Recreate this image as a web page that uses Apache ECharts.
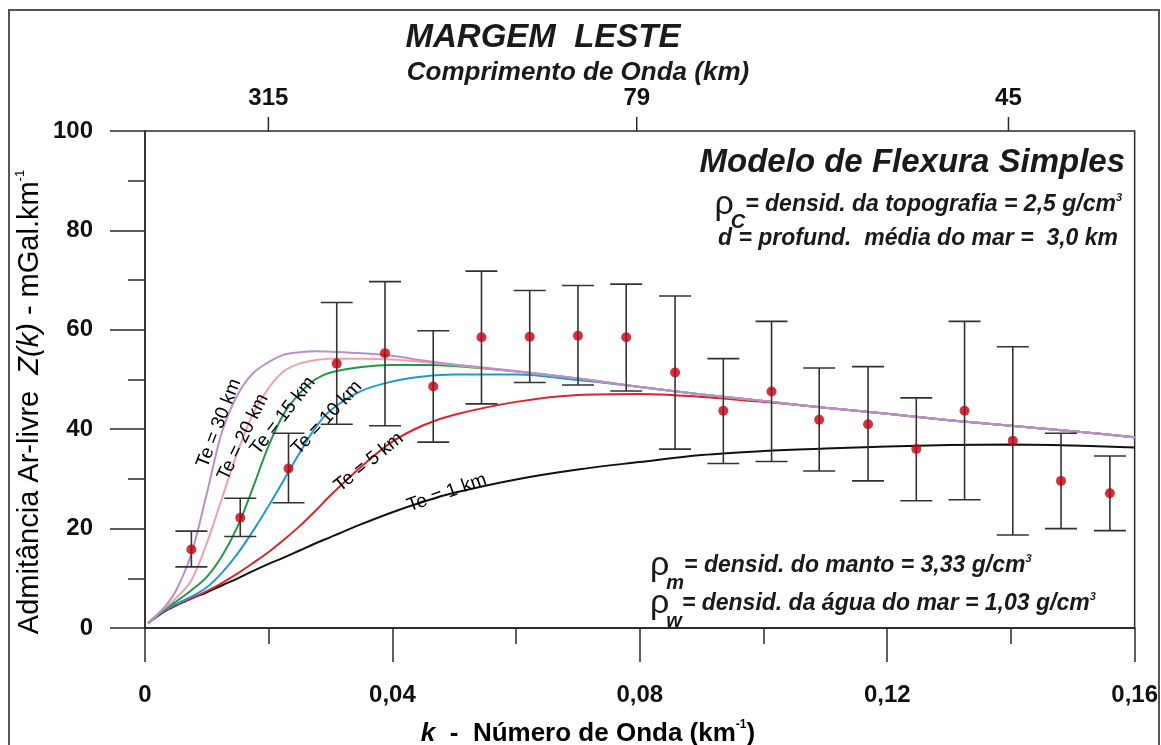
<!DOCTYPE html>
<html><head><meta charset="utf-8">
<script src="https://cdn.jsdelivr.net/npm/echarts@6/dist/echarts.min.js"></script>
<style>html,body{margin:0;padding:0;background:#fff}#c{width:1161px;height:745px}</style>
</head><body><div id="c"></div>
<script>
// ---- observed admittance (k in 1/km, Z in mGal/km) ----
const kObs  = [0.0075, 0.0154, 0.0232, 0.0310, 0.0388, 0.0466, 0.0544, 0.0622, 0.0700, 0.0778, 0.0857, 0.0935, 0.1013, 0.1090, 0.1169, 0.1247, 0.1325, 0.1403, 0.1481, 0.1560];
const zObs  = [15.8, 22.2, 32.1, 53.2, 55.3, 48.6, 58.5, 58.6, 58.8, 58.5, 51.4, 43.7, 47.6, 41.9, 41.0, 36.0, 43.7, 37.7, 29.6, 27.1];
const zHigh = [19.5, 26.1, 39.2, 65.5, 69.7, 59.8, 71.8, 67.9, 68.9, 69.2, 66.8, 54.2, 61.7, 52.3, 52.6, 46.3, 61.7, 56.6, 39.2, 34.6];
const zLow  = [12.3, 18.4, 25.2, 41.0, 40.7, 37.4, 45.1, 49.4, 48.9, 47.7, 36.0, 33.1, 33.5, 31.6, 29.6, 25.6, 25.8, 18.7, 20.0, 19.6];

// ---- model curves ----
const kCurve = [0.0005, 0.003, 0.005, 0.0075, 0.01, 0.0125, 0.015, 0.0175, 0.02, 0.0225, 0.025, 0.0275, 0.03, 0.035, 0.04, 0.045, 0.05, 0.06, 0.07, 0.08, 0.09, 0.10, 0.11, 0.12, 0.13, 0.14, 0.15, 0.16];
const te30 = [1.0, 4.0, 7.5, 15.0, 27.1, 39.7, 47.0, 51.3, 53.5, 55.0, 55.5, 55.7, 55.6, 55.3, 54.8, 53.8, 53.0, 51.7, 50.2, 48.5, 47.0, 45.7, 44.3, 43.1, 41.8, 40.7, 39.6, 38.4];
const te20 = [1.0, 3.8, 6.0, 9.6, 17.1, 26.3, 35.5, 43.2, 48.3, 51.7, 53.2, 53.9, 54.2, 54.2, 54.0, 53.5, 52.9, 51.6, 50.2, 48.5, 47.0, 45.7, 44.3, 43.1, 41.8, 40.7, 39.6, 38.4];
const te15 = [1.0, 3.6, 5.3, 7.6, 10.3, 14.6, 20.5, 28.4, 36.7, 43.2, 47.2, 50.0, 51.4, 52.5, 52.9, 52.9, 52.7, 51.6, 50.2, 48.5, 47.0, 45.7, 44.3, 43.1, 41.8, 40.7, 39.6, 38.4];
const te10 = [1.0, 3.4, 4.8, 6.3, 8.2, 11.2, 15.0, 19.6, 24.6, 29.9, 35.2, 40.2, 43.8, 47.7, 49.6, 50.6, 51.0, 51.0, 49.9, 48.5, 47.0, 45.7, 44.3, 43.1, 41.8, 40.7, 39.6, 38.4];
const te5  = [1.0, 3.3, 4.6, 5.9, 7.4, 9.1, 11.0, 13.1, 15.3, 17.8, 20.5, 23.5, 26.7, 32.5, 37.5, 40.8, 42.9, 45.5, 46.9, 47.1, 46.5, 45.5, 44.3, 43.1, 41.8, 40.7, 39.6, 38.4];
const te1  = [1.0, 3.2, 4.5, 5.9, 7.2, 8.6, 10.0, 11.5, 12.9, 14.2, 15.6, 17.0, 18.3, 20.9, 23.3, 25.4, 27.2, 29.9, 31.9, 33.4, 34.8, 35.6, 36.1, 36.5, 36.8, 36.9, 36.7, 36.3];

// ---- top axis: wavelength (km) ticks ----
const topTickLabels = ['315', '79', '45'];
const topTickK = [0.01995, 0.0795, 0.1396];

// ---- curve labels ----
const curveLabels = ['Te = 30 km', 'Te = 20 km', 'Te = 15 km', 'Te = 10 km', 'Te = 5 km', 'Te = 1 km'];
const curveLabelK = [0.01196, 0.01584, 0.0223, 0.0294, 0.0362, 0.0488];
const curveLabelZ = [41.2, 38.4, 42.7, 42.3, 33.4, 27.2];
const curveLabelAngle = [68.7, 64, 52, 47, 39, 19.5];

const Y_MIN = 0, Y_MAX = 100;
const FONT = '"Liberation Sans", Arial, sans-serif';
const AX = '#2a2a2a';

const chart = echarts.init(document.getElementById('c'), null, {renderer: 'canvas'});

function curve(name, vals, color) {
  return {
    name, type: 'line', data: kCurve.map((k, i) => [k, vals[i]]),
    showSymbol: false, smooth: 0.35,
    lineStyle: {color, width: 2}, z: 2, silent: true, xAxisIndex: 0
  };
}

const fmtK = v => v === 0 ? '0' : String(+v.toFixed(2)).replace('.', ',');

chart.setOption({
  animation: false,
  backgroundColor: '#fff',
  grid: {left: 145, right: 26, top: 131, bottom: 117, show: true, borderColor: AX, borderWidth: 1.5, containLabel: false},
  xAxis: [{
    type: 'value', min: 0, max: 0.16, interval: 0.04, position: 'bottom',
    axisLine: {show: true, onZero: false, lineStyle: {color: AX, width: 1.5}},
    axisTick: {show: true, inside: false, length: 34, lineStyle: {color: AX, width: 1.5}},
    minorTick: {show: true, splitNumber: 2, length: 16, lineStyle: {color: AX, width: 1.5}},
    axisLabel: {margin: 55, color: '#111', fontFamily: FONT, fontWeight: 'bold', fontSize: 24, formatter: fmtK},
    splitLine: {show: false}
  }, {
    type: 'value', min: 0, max: 0.16, position: 'top',
    axisLine: {show: true, lineStyle: {color: AX, width: 1.5}},
    axisTick: {show: false},
    axisLabel: {show: true, customValues: topTickK, margin: 21, color: '#111', fontFamily: FONT, fontWeight: 'bold', fontSize: 24,
      formatter: v => {
        let best = 0;
        topTickK.forEach((t, i) => { if (Math.abs(t - v) < Math.abs(topTickK[best] - v)) best = i; });
        return topTickLabels[best];
      }},
    splitLine: {show: false}
  }],
  yAxis: {
    type: 'value', min: Y_MIN, max: Y_MAX, interval: 20,
    axisLine: {show: true, lineStyle: {color: AX, width: 1.5}},
    axisTick: {show: true, length: 35, lineStyle: {color: AX, width: 1.5}},
    minorTick: {show: true, splitNumber: 2, length: 17, lineStyle: {color: AX, width: 1.5}},
    axisLabel: {margin: 52, color: '#111', fontFamily: FONT, fontWeight: 'bold', fontSize: 24},
    splitLine: {show: false}
  },
  series: [
    curve('Te = 1 km', te1, '#111111'),
    curve('Te = 5 km', te5, '#d9262b'),
    curve('Te = 10 km', te10, '#1d9ad6'),
    curve('Te = 15 km', te15, '#1f9a48'),
    curve('Te = 20 km', te20, '#f2a0ac'),
    curve('Te = 30 km', te30, '#b98fca'),
    {
      // wavelength ticks on the top axis
      type: 'custom', name: 'topTicks', z: 3, silent: true, clip: false,
      data: topTickK.map(k => [k, Y_MAX]),
      encode: {x: 0, y: 1},
      renderItem: (params, api) => {
        const p = api.coord([api.value(0), api.value(1)]);
        return {type: 'line', shape: {x1: p[0], y1: p[1], x2: p[0], y2: p[1] - 14}, style: {stroke: AX, lineWidth: 1.5}};
      }
    },
    {
      type: 'custom', name: 'erro', z: 3, silent: true,
      data: kObs.map((k, i) => [k, zLow[i], zHigh[i]]),
      encode: {x: 0, y: [1, 2]},
      renderItem: (params, api) => {
        const k = api.value(0);
        const pLo = api.coord([k, api.value(1)]);
        const pHi = api.coord([k, api.value(2)]);
        const w = 16;
        const st = {stroke: '#333', lineWidth: 1.6};
        return {type: 'group', children: [
          {type: 'line', shape: {x1: pLo[0], y1: pLo[1], x2: pHi[0], y2: pHi[1]}, style: st},
          {type: 'line', shape: {x1: pLo[0] - w, y1: pLo[1], x2: pLo[0] + w, y2: pLo[1]}, style: st},
          {type: 'line', shape: {x1: pHi[0] - w, y1: pHi[1], x2: pHi[0] + w, y2: pHi[1]}, style: st}
        ]};
      }
    },
    {
      type: 'scatter', name: 'obs', z: 4, silent: true,
      data: kObs.map((k, i) => [k, zObs[i]]),
      symbol: 'circle', symbolSize: 10,
      itemStyle: {color: '#c4000f'}
    }
  ]
});

// ---- annotations ----
const g = [];
g.push({type: 'rect', shape: {x: 9, y: 10, width: 1150, height: 760}, style: {fill: null, stroke: '#555', lineWidth: 2}, silent: true, z: 10});

g.push({type: 'text', x: 543, y: 38, style: {text: 'MARGEM  LESTE', font: 'italic bold 33px ' + FONT, fill: '#1a1a1a', align: 'center', verticalAlign: 'middle'}, z: 10});
g.push({type: 'text', x: 578, y: 73, style: {text: 'Comprimento de Onda (km)', font: 'italic bold 26px ' + FONT, fill: '#1a1a1a', align: 'center', verticalAlign: 'middle'}, z: 10});

g.push({type: 'text', x: 1125, y: 163, style: {text: 'Modelo de Flexura Simples', font: 'italic bold 33px ' + FONT, fill: '#1a1a1a', align: 'right', verticalAlign: 'middle'}, z: 10});

const richBase = {
  rho: {fontFamily: FONT, fontSize: 34, fontWeight: 'normal', color: '#1a1a1a', verticalAlign: 'middle', lineHeight: 38},
  sub: {fontFamily: FONT, fontSize: 20, fontStyle: 'italic', fontWeight: 'bold', color: '#1a1a1a', verticalAlign: 'bottom', lineHeight: 38, padding: [0, 0, -8, -3]},
  t: {fontFamily: FONT, fontSize: 23, fontStyle: 'italic', fontWeight: 'bold', color: '#1a1a1a', verticalAlign: 'middle', lineHeight: 38},
  sup: {fontFamily: FONT, fontSize: 11, fontStyle: 'italic', fontWeight: 'bold', color: '#1a1a1a', verticalAlign: 'top', lineHeight: 38, padding: [6, 0, 0, 0]}
};
function richText(x, y, text, align) {
  return {type: 'text', x, y, z: 10, style: {text, rich: richBase, align, verticalAlign: 'middle', fill: '#1a1a1a'}};
}
g.push(richText(1122, 205, '{rho|ρ}{sub|C}{t|= densid. da topografia = 2,5 g/cm}{sup|3}', 'right'));
g.push({type: 'text', x: 1118, y: 239, style: {text: 'd = profund.  média do mar =  3,0 km', font: 'italic bold 23px ' + FONT, fill: '#1a1a1a', align: 'right', verticalAlign: 'middle'}, z: 10});
g.push(richText(650, 566, '{rho|ρ}{sub|m}{t|= densid. do manto = 3,33 g/cm}{sup|3}', 'left'));
g.push(richText(650, 604, '{rho|ρ}{sub|w}{t|= densid. da água do mar = 1,03 g/cm}{sup|3}', 'left'));

// axis titles
g.push({type: 'text', x: 588, y: 734, z: 10, style: {
  text: '{i|k}{n|  -  Número de Onda (km}{s|-1}{n|)}', align: 'center', verticalAlign: 'middle',
  rich: {
    i: {fontFamily: FONT, fontSize: 26, fontStyle: 'italic', fontWeight: 'bold', color: '#1a1a1a', lineHeight: 30},
    n: {fontFamily: FONT, fontSize: 26, fontWeight: 'bold', color: '#1a1a1a', lineHeight: 30},
    s: {fontFamily: FONT, fontSize: 12, fontWeight: 'bold', color: '#1a1a1a', verticalAlign: 'top', lineHeight: 30}
  }}});
g.push({type: 'text', x: 30, y: 402, rotation: Math.PI / 2, z: 10, style: {
  text: '{n|Admitância Ar-livre  }{i|Z(k)}{n| - mGal.km}{s|-1}', align: 'center', verticalAlign: 'middle',
  rich: {
    i: {fontFamily: FONT, fontSize: 29, fontStyle: 'italic', color: '#1a1a1a', lineHeight: 32},
    n: {fontFamily: FONT, fontSize: 29, color: '#1a1a1a', lineHeight: 32},
    s: {fontFamily: FONT, fontSize: 13, color: '#1a1a1a', verticalAlign: 'top', lineHeight: 32}
  }}});

// curve labels anchored in data coordinates
curveLabels.forEach((lab, i) => {
  const p = chart.convertToPixel({gridIndex: 0}, [curveLabelK[i], curveLabelZ[i]]);
  g.push({type: 'text', x: p[0], y: p[1], rotation: curveLabelAngle[i] * Math.PI / 180, z: 5,
    style: {text: lab, font: '19px ' + FONT, fill: '#000', align: 'center', verticalAlign: 'middle'}});
});

chart.setOption({graphic: g});
</script>
</body></html>
